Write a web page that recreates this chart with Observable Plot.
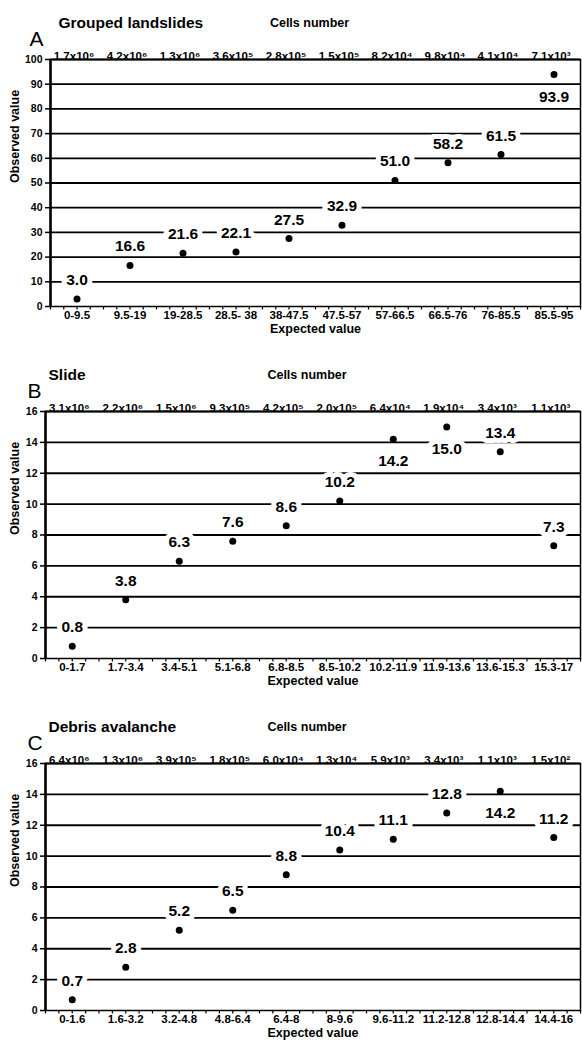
<!DOCTYPE html>
<html><head><meta charset="utf-8">
<script src="https://cdn.jsdelivr.net/npm/d3@7"></script>
<script src="https://cdn.jsdelivr.net/npm/@observablehq/plot@0.6"></script>
<style>
body{margin:0;background:#fff;overflow:hidden;}
#charts svg{display:block;}
</style></head><body><div id="charts"></div>
<script>
// Panel A: Grouped landslides
const catsA = ["0-9.5","9.5-19","19-28.5","28.5- 38","38-47.5","47.5-57","57-66.5","66.5-76","76-85.5","85.5-95"];
const valsA = [3.0,16.6,21.6,22.1,27.5,32.9,51.0,58.2,61.5,93.9];
const cellsA = ["1.7x10⁶","4.2x10⁶","1.3x10⁶","3.6x10⁵","2.8x10⁵","1.5x10⁵","8.2x10⁴","9.8x10⁴","4.1x10⁴","7.1x10³"];
const belowA = [0,0,0,0,0,0,0,0,0,1];
const yTicksA = [0,10,20,30,40,50,60,70,80,90,100];

// Panel B: Slide
const catsB = ["0-1.7","1.7-3.4","3.4-5.1","5.1-6.8","6.8-8.5","8.5-10.2","10.2-11.9","11.9-13.6","13.6-15.3","15.3-17"];
const valsB = [0.8,3.8,6.3,7.6,8.6,10.2,14.2,15.0,13.4,7.3];
const cellsB = ["3.1x10⁶","2.2x10⁶","1.5x10⁶","9.3x10⁵","4.2x10⁵","2.0x10⁵","6.4x10⁴","1.9x10⁴","3.4x10³","1.1x10³"];
const belowB = [0,0,0,0,0,0,1,1,0,0];
const yTicksB = [0,2,4,6,8,10,12,14,16];

// Panel C: Debris avalanche
const catsC = ["0-1.6","1.6-3.2","3.2-4.8","4.8-6.4","6.4-8","8-9.6","9.6-11.2","11.2-12.8","12.8-14.4","14.4-16"];
const valsC = [0.7,2.8,5.2,6.5,8.8,10.4,11.1,12.8,14.2,11.2];
const cellsC = ["6.4x10⁶","1.3x10⁶","3.9x10⁵","1.8x10⁵","6.0x10⁴","1.3x10⁴","5.9x10³","3.4x10³","1.1x10³","1.5x10²"];
const belowC = [0,0,0,0,0,0,0,0,1,0];
const yTicksC = [0,2,4,6,8,10,12,14,16];

const FONT = "'Liberation Sans', Arial, Helvetica, sans-serif";

function panel(p){
  const data = p.vals.map((v,i)=>({i, v, label: v.toFixed(1), below: p.below[i]}));
  const ml = p.marginLeft;
  const yMax = p.yTicks[p.yTicks.length-1];
  return Plot.plot({
    width: 582, height: 352,
    marginTop: 59, marginBottom: 46, marginLeft: ml, marginRight: 2,
    style: {fontFamily: FONT, fontWeight: "bold", fontSize: "10.5px", background: "white", color: "black", overflow: "visible"},
    x: {domain: [-0.5, 9.5], axis: null},
    y: {domain: [0, yMax], axis: null},
    marks: [
      Plot.ruleY(p.yTicks.filter(t => t > 0), {stroke: "black", strokeWidth: 1.8}),
      Plot.frame({stroke: "black", strokeWidth: 1.5}),
      Plot.ruleX([-0.5], {stroke: "black", strokeWidth: 2.5}),
      Plot.axisY({ticks: p.yTicks, tickSize: 5, tickPadding: 3, tickFormat: d => String(d), label: null, fontSize: 10.5, strokeWidth: 1.5}),
      Plot.axisX({ticks: d3.range(-0.5, 9.51, 0.25), tickSize: 3.5, tickFormat: () => "", label: null, strokeWidth: 1.2}),
      Plot.text(p.cats, {x: (d, i) => i, frameAnchor: "bottom", dy: 12, text: d => d, fontSize: 11.5}),
      Plot.text(p.cells, {x: (d, i) => i, frameAnchor: "top", dy: -8, text: d => d, fontSize: 11.5, dx: -3}),
      Plot.text([p.title], {frameAnchor: "top-left", dx: p.titleDx, dy: -43, textAnchor: "start", fontSize: 15.5}),
      Plot.text([p.letter], {frameAnchor: "top-left", dx: p.letterDx, dy: -28, fontSize: 21, fontWeight: "normal"}),
      Plot.text(["Cells number"], {frameAnchor: "top", dx: -6, dy: -41, fontSize: 12.5}),
      Plot.text(["Expected value"], {frameAnchor: "bottom", dy: 26, fontSize: 12.5}),
      Plot.text(["Observed value"], {frameAnchor: "left", dx: -(ml - 14), rotate: -90, fontSize: 12.5}),
      Plot.text(data.filter(d => !d.below), {x: "i", y: "v", text: "label", dy: -19, fontSize: 15.5, fill: "black", stroke: "white", strokeWidth: 10, paintOrder: "stroke"}),
      Plot.text(data.filter(d => d.below), {x: "i", y: "v", text: "label", dy: 22, fontSize: 15.5, fill: "black", stroke: "white", strokeWidth: 10, paintOrder: "stroke"}),
      Plot.dot(data, {x: "i", y: "v", r: 3.5, fill: "black", stroke: null})
    ]
  });
}

const host = document.getElementById("charts");
host.append(panel({letter: "A", title: "Grouped landslides", cats: catsA, vals: valsA, cells: cellsA, below: belowA, yTicks: yTicksA, marginLeft: 50, titleDx: 8, letterDx: -21}));
host.append(panel({letter: "B", title: "Slide", cats: catsB, vals: valsB, cells: cellsB, below: belowB, yTicks: yTicksB, marginLeft: 45, titleDx: 3, letterDx: -18}));
host.append(panel({letter: "C", title: "Debris avalanche", cats: catsC, vals: valsC, cells: cellsC, below: belowC, yTicks: yTicksC, marginLeft: 45, titleDx: 3, letterDx: -18}));
</script></body></html>
